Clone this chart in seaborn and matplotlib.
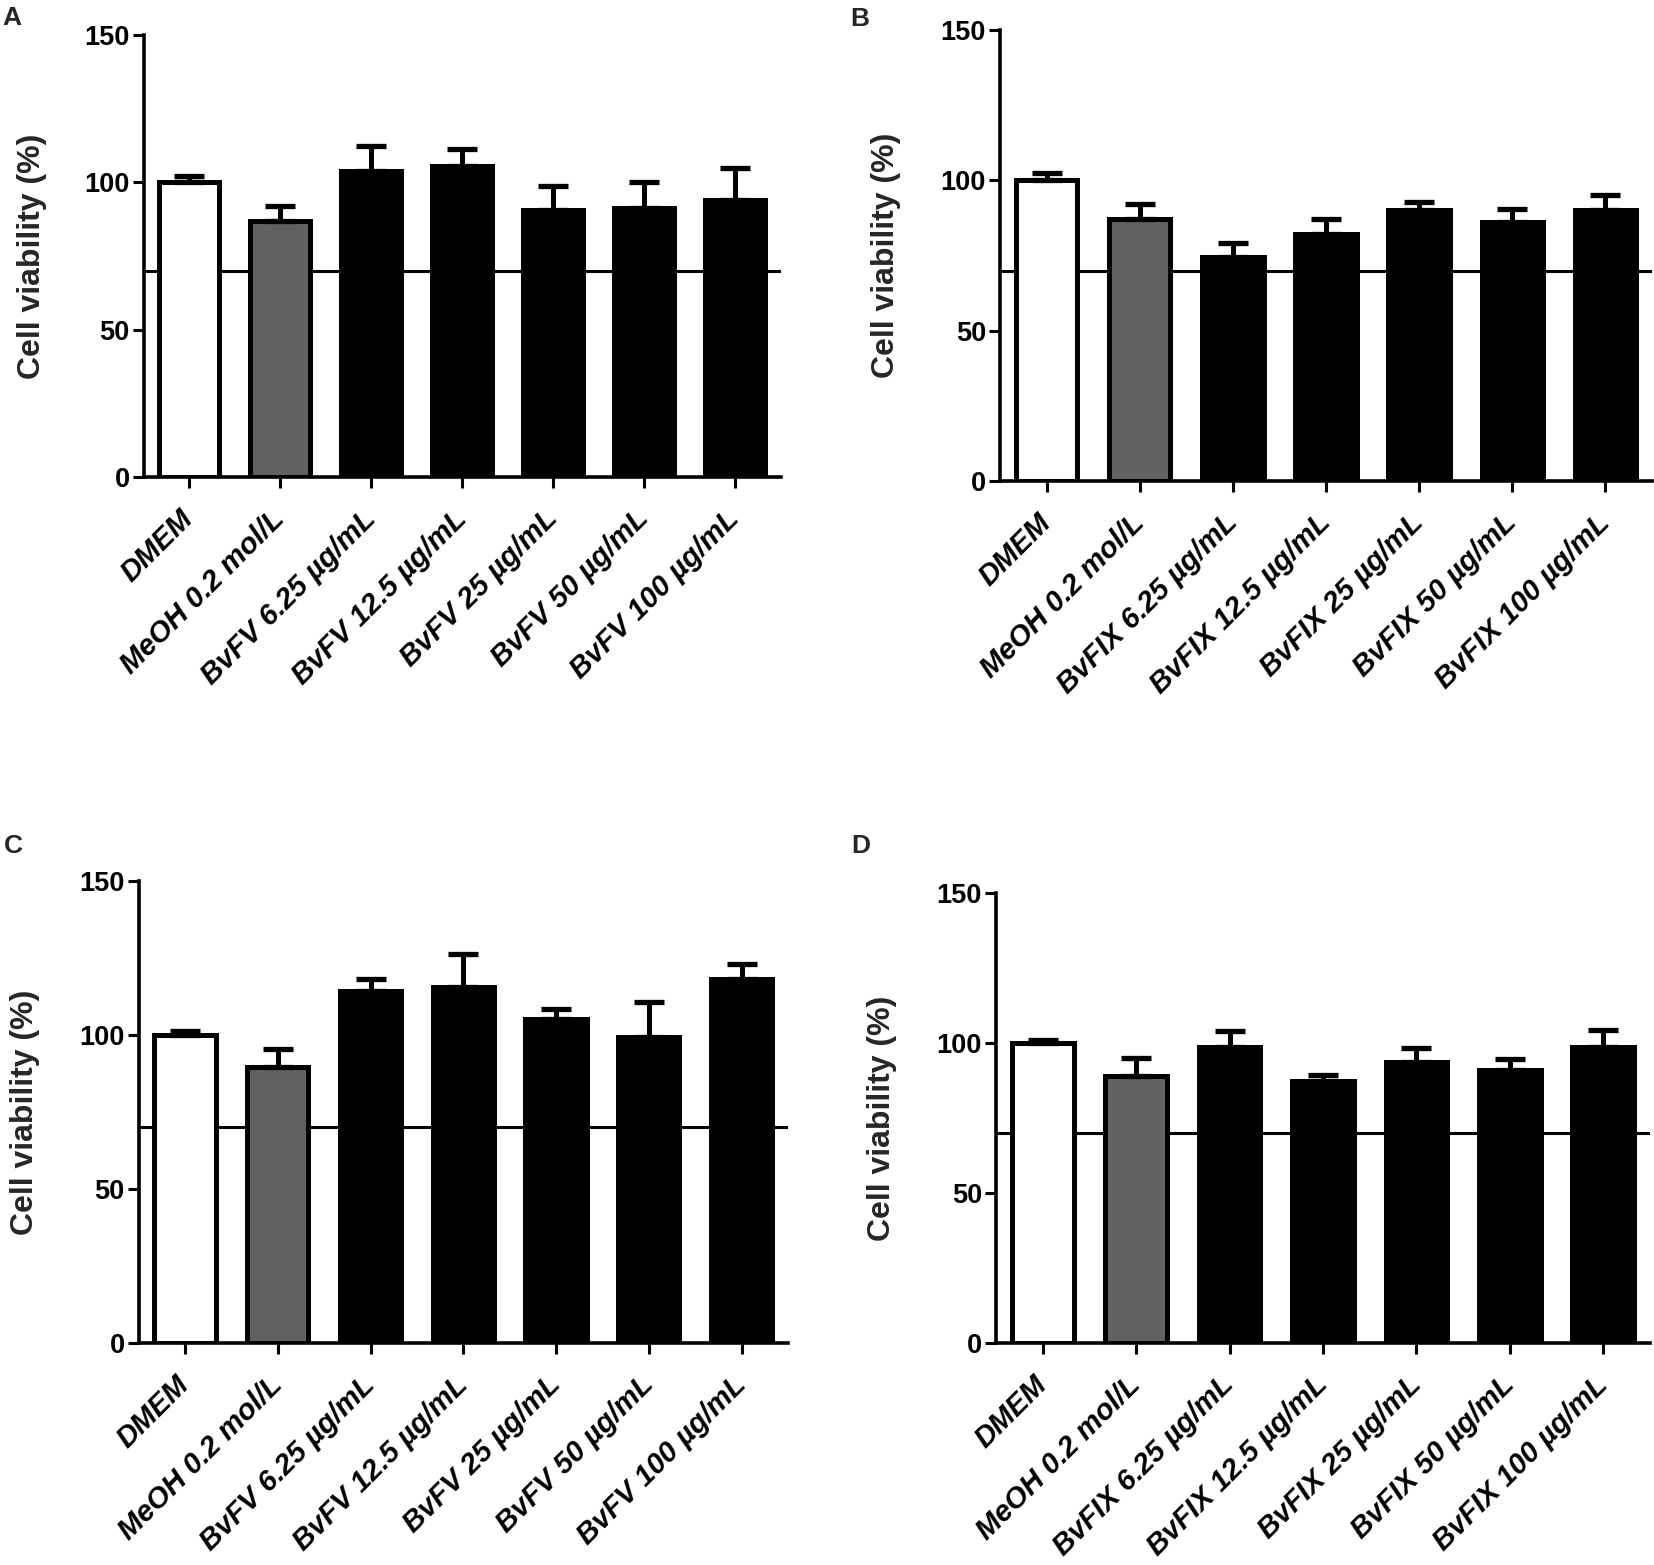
import matplotlib
matplotlib.use("Agg")
import matplotlib.pyplot as plt
import seaborn as sns
import numpy as np

# --- data ---
labels_fv = ["DMEM", "MeOH 0.2 mol/L", "BvFV 6.25 µg/mL", "BvFV 12.5 µg/mL",
             "BvFV 25 µg/mL", "BvFV 50 µg/mL", "BvFV 100 µg/mL"]
labels_fix = ["DMEM", "MeOH 0.2 mol/L", "BvFIX 6.25 µg/mL", "BvFIX 12.5 µg/mL",
              "BvFIX 25 µg/mL", "BvFIX 50 µg/mL", "BvFIX 100 µg/mL"]

viab_a = [100.0, 87.0, 104.0, 105.4, 90.7, 91.2, 94.1]
err_a = [2.3, 4.8, 8.2, 5.9, 7.9, 8.8, 10.8]
viab_b = [100.0, 87.0, 74.4, 82.3, 90.0, 86.2, 90.0]
err_b = [2.4, 5.0, 4.6, 5.0, 2.7, 4.2, 5.1]
viab_c = [100.0, 89.6, 114.3, 115.7, 105.3, 99.4, 118.1]
err_c = [1.3, 5.9, 3.8, 10.6, 3.3, 11.2, 5.1]
viab_d = [100.0, 89.1, 98.7, 87.3, 93.6, 91.0, 98.7]
err_d = [1.0, 6.0, 5.3, 2.2, 4.7, 3.8, 5.6]

threshold = 70
yticks = [0, 50, 100, 150]
bar_colors = ["#ffffff", "#616161", "#000000", "#000000", "#000000", "#000000", "#000000"]

sns.set_theme(style="ticks")
plt.rcParams.update({
    "font.family": ["Liberation Sans", "DejaVu Sans"],
    "axes.linewidth": 2.6,
    "xtick.major.width": 2.2,
    "ytick.major.width": 2.2,
    "xtick.major.size": 8,
    "ytick.major.size": 8,
    "xtick.color": "black",
    "ytick.color": "black",
    "axes.edgecolor": "black",
})

W, H = 1654, 1565
fig = plt.figure(figsize=(W / 100, H / 100), dpi=100)

# axes boxes in pixels: left, right, y of 0, y of 150
boxes = {
    "A": (143.5, 780.5, 477, 35),
    "B": (1000, 1652, 481, 30),
    "C": (138.6, 788, 1343, 881),
    "D": (996, 1650, 1343, 893),
}
panels = [
    ("A", labels_fv, viab_a, err_a, (2, 6)),
    ("B", labels_fix, viab_b, err_b, (850, 7)),
    ("C", labels_fv, viab_c, err_c, (4, 834)),
    ("D", labels_fix, viab_d, err_d, (851, 834)),
]

for name, labels, vals, errs, letter_xy in panels:
    l, r, y0, y1 = boxes[name]
    ax = fig.add_axes([l / W, 1 - y0 / H, (r - l) / W, (y0 - y1) / H])

    # 70% viability threshold, behind the bars
    ax.axhline(threshold, color="black", lw=2.2, zorder=0.5)
    sns.barplot(x=labels, y=vals, hue=labels, palette=dict(zip(labels, bar_colors)),
                legend=False, width=0.66, edgecolor="black", linewidth=3.6,
                errorbar=None, ax=ax, zorder=2)
    for p in ax.patches:
        p.set_zorder(2)
    xpos = np.arange(len(vals))
    ax.errorbar(xpos, vals, yerr=[np.zeros(len(errs)), errs], fmt="none",
                ecolor="black", elinewidth=3.6, capsize=11, capthick=3.8, zorder=3)

    ax.set_xlim(-0.5, 6.5)
    ax.set_ylim(0, 150)
    ax.set_yticks(yticks)
    ax.set_facecolor("none")
    sns.despine(ax=ax)
    ax.tick_params(axis="y", labelsize=19.5, pad=2)
    ax.tick_params(axis="x", pad=19)
    for t in ax.get_yticklabels():
        t.set_fontweight("bold")
    ax.set_xticks(xpos)
    ax.set_xticklabels(labels, rotation=45, ha="right", va="center",
                       rotation_mode="anchor", fontsize=21,
                       fontweight="bold", fontstyle="italic")
    ax.set_xlabel("")
    ax.set_ylabel("Cell viability (%)", fontsize=23, fontweight="bold")
    ax.yaxis.set_label_coords(-0.152, 0.5)

    fig.text(letter_xy[0] / W, 1 - letter_xy[1] / H, name, fontsize=19,
             fontweight="bold", ha="left", va="top")

fig.savefig("out.png", dpi=100)
